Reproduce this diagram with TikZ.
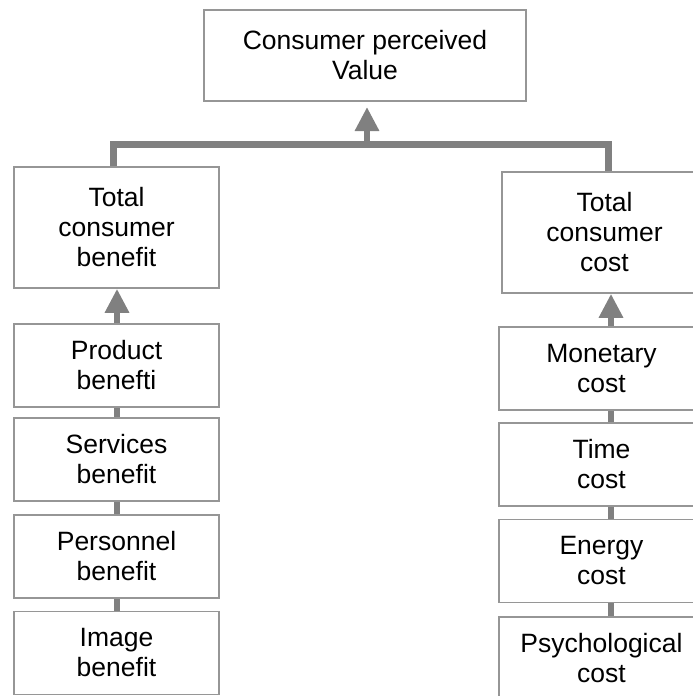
\documentclass[tikz,border=0pt]{standalone}
\usepackage{fontspec}
\setmainfont{Liberation Sans}
\usetikzlibrary{arrows.meta}
\definecolor{conn}{RGB}{128,128,128}
\definecolor{bord}{RGB}{150,150,150}
\begin{document}
\begin{tikzpicture}[x=1pt,y=-1pt,
  box/.style={draw=bord,line width=1.6pt,rectangle,inner sep=0pt,align=center,
    font=\fontsize{26.5pt}{30pt}\selectfont,text=black},
  bigbox/.style={box,minimum width=205pt,minimum height=121pt},
  smallbox/.style={box,minimum width=205pt,minimum height=83pt},
  link/.style={draw=conn,line width=6.5pt},
  uparrow/.style={link,-{Triangle[width=23pt,length=24pt]}}]
\useasboundingbox (0,0) rectangle (693,696);
\clip (0,0) rectangle (693,696);
\node[box,minimum width=322pt,minimum height=91pt] (top) at (365,55.5) {Consumer perceived\\Value};
\node[bigbox] (tcb) at (116.5,227.5) {Total\\consumer\\benefit};
\node[bigbox] (tcc) at (604.5,232.5) {Total\\consumer\\cost};
\node[smallbox] (pb) at (116.5,365.5) {Product\\benefti};
\node[smallbox] (sb) at (116.5,459.5) {Services\\benefit};
\node[smallbox] (peb) at (116.5,556.5) {Personnel\\benefit};
\node[smallbox] (ib) at (116.5,653) {Image\\benefit};
\node[smallbox] (mc) at (601.5,368.5) {Monetary\\cost};
\node[smallbox] (tc) at (601.5,464.5) {Time\\cost};
\node[smallbox] (ec) at (601.5,561) {Energy\\cost};
\node[smallbox] (pc) at (601.5,658.5) {Psychological\\cost};
\coordinate (xl) at (117,0);
\coordinate (xr) at (611,0);
\coordinate (bl) at (113,144);
\coordinate (br) at (608,144);
\coordinate (mid) at (367,144);
\coordinate (tip) at (367,107);
% top tree
\draw[link,line width=7pt] (tcb.north -| bl) -- (bl) -- (br) -- (tcc.north -| br);
\draw[uparrow] (mid) -- (tip);
% left chain
\draw[uparrow] (pb.north -| xl) -- (tcb.south -| xl);
\draw[link] (sb.north -| xl) -- (pb.south -| xl);
\draw[link] (peb.north -| xl) -- (sb.south -| xl);
\draw[link] (ib.north -| xl) -- (peb.south -| xl);
% right chain
\draw[uparrow] (mc.north -| xr) -- (tcc.south -| xr);
\draw[link] (tc.north -| xr) -- (mc.south -| xr);
\draw[link] (ec.north -| xr) -- (tc.south -| xr);
\draw[link] (pc.north -| xr) -- (ec.south -| xr);
\end{tikzpicture}
\end{document}
